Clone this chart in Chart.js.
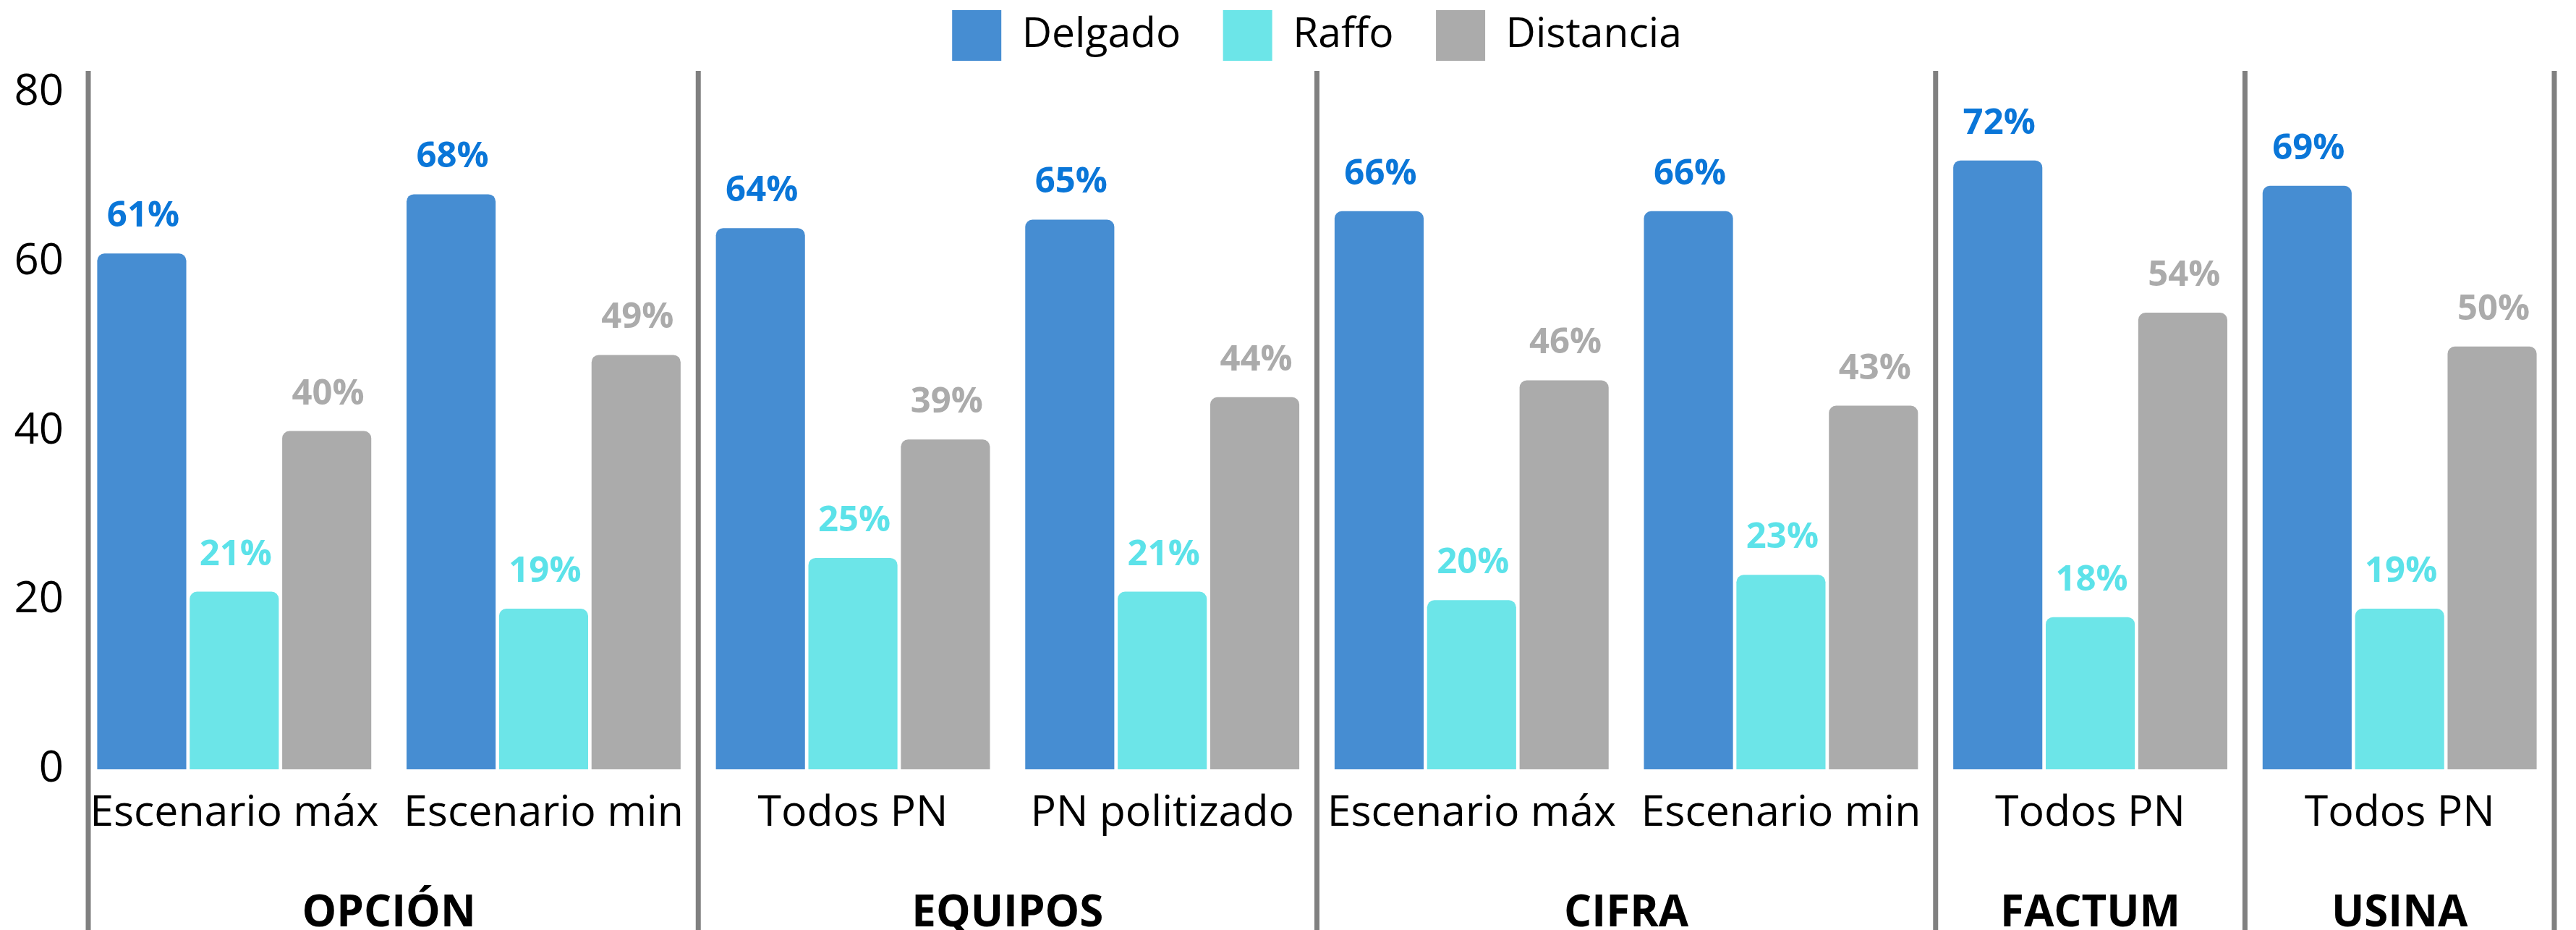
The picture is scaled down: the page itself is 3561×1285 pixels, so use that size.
<!DOCTYPE html>
<html>
<head>
<meta charset="utf-8">
<script src="https://cdn.jsdelivr.net/npm/chart.js@4/dist/chart.umd.min.js"></script>
<style>
html,body{margin:0;padding:0;background:#fff;}
#wrap{width:3561px;height:1285px;}
</style>
</head>
<body>
<div id="wrap"><canvas id="c" width="3561" height="1285"></canvas></div>
<script>
const categories = ['Escenario máx','Escenario min','Todos PN','PN politizado','Escenario máx','Escenario min','Todos PN','Todos PN'];
const delgado   = [61, 68, 64, 65, 66, 66, 72, 69];
const raffo     = [21, 19, 25, 21, 20, 23, 18, 19];
const distancia = [40, 49, 39, 44, 46, 43, 54, 50];
const groups     = ['OPCIÓN','EQUIPOS','CIFRA','FACTUM','USINA'];
const groupSpans = [2, 2, 2, 1, 1];
const yTicks = [0, 20, 40, 60, 80];

const FONT = "'Open Sans', sans-serif";

const groupPlugin = {
  id: 'groupPlugin',
  beforeDatasetsDraw(chart) {
    const ctx = chart.ctx, x = chart.scales.x;
    const n = categories.length;
    const step = (x.right - x.left) / n;
    ctx.save();
    ctx.strokeStyle = '#808080';
    ctx.lineWidth = 7;
    let idx = 0;
    const bounds = [0];
    groupSpans.forEach(s => { idx += s; bounds.push(idx); });
    bounds.forEach((b, k) => {
      let px = x.left + b * step;
      if (k === 0) px += 12;
      ctx.beginPath();
      ctx.moveTo(px, 98);
      ctx.lineTo(px, chart.height);
      ctx.stroke();
    });
    ctx.restore();
  },
  afterDraw(chart) {
    const ctx = chart.ctx, x = chart.scales.x;
    const n = categories.length;
    const step = (x.right - x.left) / n;
    ctx.save();
    ctx.font = "bold 60px " + FONT;
    ctx.fillStyle = '#000';
    ctx.textAlign = 'center';
    ctx.textBaseline = 'middle';
    let idx = 0;
    groups.forEach((g, i) => {
      const cx = x.left + (idx + groupSpans[i] / 2) * step;
      ctx.fillText(g, cx, 1263);
      idx += groupSpans[i];
    });
    ctx.restore();
  }
};

const labelPlugin = {
  id: 'labelPlugin',
  afterDatasetsDraw(chart) {
    const ctx = chart.ctx;
    ctx.save();
    ctx.font = "bold 49px " + FONT;
    ctx.textAlign = 'center';
    ctx.textBaseline = 'alphabetic';
    chart.data.datasets.forEach((ds, di) => {
      const meta = chart.getDatasetMeta(di);
      ctx.fillStyle = ds.labelColor;
      meta.data.forEach((el, i) => {
        ctx.fillText(ds.data[i] + '%', el.x + 2, el.y - 37);
      });
    });
    ctx.restore();
  }
};

new Chart(document.getElementById('c'), {
  type: 'bar',
  data: {
    labels: categories,
    datasets: [
      {label: 'Delgado', data: delgado, backgroundColor: '#468DD2', labelColor: '#0A76D8'},
      {label: 'Raffo', data: raffo, backgroundColor: '#6CE5E8', labelColor: '#5CE2E9'},
      {label: 'Distancia', data: distancia, backgroundColor: '#ABABAB', labelColor: '#ABABAB'}
    ]
  },
  options: {
    responsive: false,
    devicePixelRatio: 1,
    animation: false,
    layout: {padding: {left: 20, right: 30, top: 0, bottom: 0}},
    datasets: {
      bar: {
        categoryPercentage: 0.897,
        barPercentage: 0.963,
        borderRadius: {topLeft: 10, topRight: 10, bottomLeft: 0, bottomRight: 0},
        borderSkipped: 'bottom'
      }
    },
    plugins: {
      legend: {
        position: 'top',
        align: 'center',
        fullSize: false,
        weight: 1000,
        labels: {
          boxWidth: 68,
          boxHeight: 70,
          padding: 14,
          color: '#000',
          font: {family: FONT, size: 57},
          generateLabels(chart) {
            const items = Chart.defaults.plugins.legend.labels.generateLabels(chart);
            items.forEach((it, i) => { if (i < items.length - 1) it.text = it.text + '   '; });
            return items;
          }
        }
      },
      subtitle: {
        display: true,
        text: '',
        weight: 500,
        position: 'top',
        font: {size: 1},
        padding: {top: 33, bottom: 0}
      },
      tooltip: {enabled: false}
    },
    scales: {
      x: {
        afterFit(axis) { axis.height = 222; },
        grid: {display: false, drawTicks: false},
        border: {display: false},
        ticks: {color: '#000', padding: 26, maxRotation: 0, autoSkip: false, font: {family: FONT, size: 59}}
      },
      y: {
        min: 0, max: 80,
        afterFit(axis) { axis.width = 90; },
        afterBuildTicks(axis) { axis.ticks = yTicks.map(v => ({value: v})); },
        grid: {display: false, drawTicks: false},
        border: {display: false},
        ticks: {color: '#000', padding: 22, font: {family: FONT, size: 60}}
      }
    }
  },
  plugins: [groupPlugin, labelPlugin]
});
</script>
</body>
</html>
